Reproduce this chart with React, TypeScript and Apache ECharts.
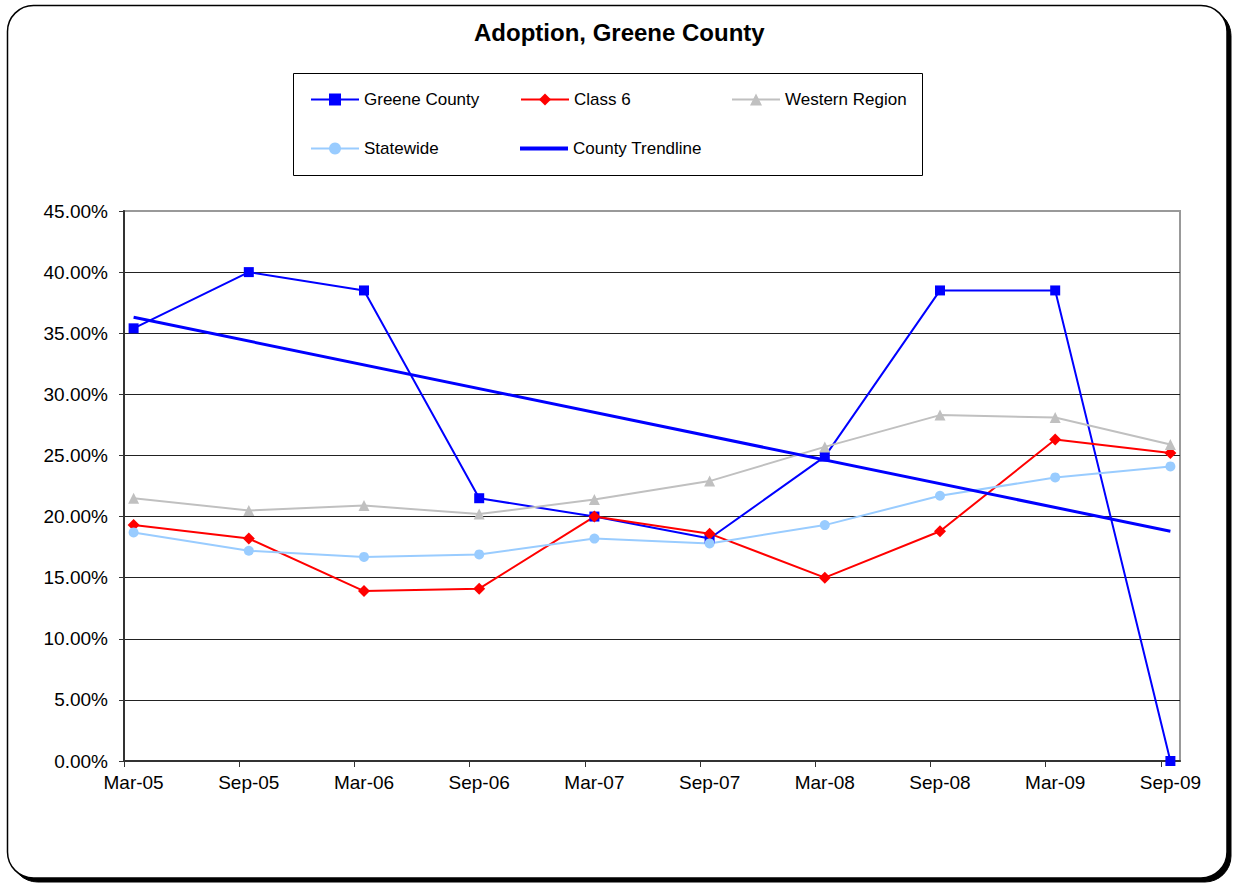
import React, { useEffect, useRef } from "react";
import * as echarts from "echarts";

// Reporting periods (six-month steps) and their month offsets from Mar-05
const periods = ["Mar-05", "Sep-05", "Mar-06", "Sep-06", "Mar-07", "Sep-07", "Mar-08", "Sep-08", "Mar-09", "Sep-09"];
const periodMonths = [0, 6, 12, 18, 24, 30, 36, 42, 48, 54];

// Adoption rates, in percent
const greeneCounty = [35.4, 40.0, 38.5, 21.5, 20.0, 18.2, 24.9, 38.5, 38.5, 0.0];
const class6 = [19.3, 18.2, 13.9, 14.1, 20.0, 18.6, 15.0, 18.8, 26.3, 25.2];
const westernRegion = [21.5, 20.5, 20.9, 20.2, 21.4, 22.9, 25.7, 28.3, 28.1, 25.9];
const statewide = [18.7, 17.2, 16.7, 16.9, 18.2, 17.8, 19.3, 21.7, 23.2, 24.1];

// County trendline, first and last period
const countyTrend = [36.3, 18.8];

const yTicks = [0, 5, 10, 15, 20, 25, 30, 35, 40, 45];

const FONT = "Liberation Sans, Arial, sans-serif";

const toPoints = (vals: number[]) => vals.map((v, i) => [periodMonths[i] + 0.5, v]);

export default function App() {
  const ref = useRef<HTMLDivElement>(null);

  useEffect(() => {
    if (!ref.current) return;
    const chart = echarts.init(ref.current, undefined, { renderer: "svg" });

    const lineSeries = (
      name: string,
      vals: number[],
      color: string,
      symbol: string,
      symbolSize: number
    ) => ({
      name,
      type: "line",
      data: toPoints(vals),
      symbol,
      symbolSize,
      showSymbol: true,
      lineStyle: { color, width: 2 },
      itemStyle: { color },
      emphasis: { disabled: true },
      z: 3,
    });

    const legendText = { fontSize: 17, fontFamily: FONT, color: "#000" };
    const legendItem = (name: string, left: number, top: number, extra: any = {}) => ({
      data: [name],
      left,
      top,
      orient: "horizontal",
      itemWidth: 48,
      itemHeight: 15,
      selectedMode: false,
      textStyle: legendText,
      padding: 0,
      ...extra,
    });

    const lastMonth = periodMonths[periodMonths.length - 1];

    chart.setOption({
      animation: false,
      backgroundColor: "transparent",
      title: {
        text: "Adoption, Greene County",
        left: 474,
        top: 20,
        padding: 0,
        textStyle: { fontSize: 24, fontWeight: "bold", fontFamily: FONT, color: "#000" },
      },
      graphic: [
        {
          type: "rect",
          silent: true,
          z: -20,
          shape: { x: 11.5, y: 9.5, width: 1219.5, height: 872.5, r: 26 },
          style: { fill: "#000", stroke: "#000", lineWidth: 1 },
        },
        {
          type: "rect",
          silent: true,
          z: -19,
          shape: { x: 7.5, y: 5.5, width: 1219.5, height: 872.5, r: 26 },
          style: { fill: "#fff", stroke: "#000", lineWidth: 1.5 },
        },
        {
          type: "rect",
          silent: true,
          z: -18,
          shape: { x: 293.5, y: 73.5, width: 629, height: 102 },
          style: { fill: "#fff", stroke: "#000", lineWidth: 1 },
        },
      ],
      legend: [
        legendItem("Greene County", 310, 91),
        legendItem("Class 6", 520, 91),
        legendItem("Western Region", 731, 91),
        legendItem("Statewide", 310, 140),
        legendItem("County Trendline", 520, 140, { itemHeight: 4, icon: "rect" }),
      ],
      grid: {
        left: 124,
        right: 53,
        top: 211,
        bottom: 123,
        show: true,
        backgroundColor: "#fff",
        borderColor: "#999",
        borderWidth: 2,
      },
      xAxis: {
        type: "value",
        min: 0,
        max: lastMonth + 1,
        splitLine: { show: false },
        axisLine: { show: true, onZero: false, lineStyle: { color: "#333", width: 2 } },
        axisTick: {
          show: true,
          length: 6,
          customValues: periodMonths,
          lineStyle: { color: "#333", width: 1 },
        },
        axisLabel: {
          customValues: periodMonths.map((m) => m + 0.5),
          formatter: (v: number) => {
            const i = periodMonths.indexOf(Math.round(v - 0.5));
            return i >= 0 ? periods[i] : "";
          },
          fontSize: 19,
          fontFamily: FONT,
          color: "#000",
          margin: 12,
        },
      },
      yAxis: {
        type: "value",
        min: 0,
        max: 45,
        interval: 5,
        axisLine: { show: true, lineStyle: { color: "#333", width: 2 } },
        axisTick: { show: true, length: 5, lineStyle: { color: "#333", width: 1 } },
        splitLine: {
          show: true,
          lineStyle: {
            color: yTicks.map((t, i) => (i === yTicks.length - 1 ? "#999" : "#222")),
            width: 1,
          },
        },
        axisLabel: {
          formatter: (v: number) => v.toFixed(2) + "%",
          fontSize: 19,
          fontFamily: FONT,
          color: "#000",
          margin: 16,
        },
      },
      series: [
        lineSeries("Greene County", greeneCounty, "#0000FF", "rect", 10),
        lineSeries("Class 6", class6, "#FF0000", "diamond", 12),
        lineSeries("Western Region", westernRegion, "#C0C0C0", "triangle", 11),
        lineSeries("Statewide", statewide, "#99CCFF", "circle", 10),
        {
          name: "County Trendline",
          type: "line",
          data: [
            [periodMonths[0] + 0.5, countyTrend[0]],
            [lastMonth + 0.5, countyTrend[1]],
          ],
          symbol: "none",
          lineStyle: { color: "#0000FF", width: 3 },
          itemStyle: { color: "#0000FF" },
          emphasis: { disabled: true },
          z: 4,
        },
      ],
    });

    return () => chart.dispose();
  }, []);

  return (
    <div
      ref={ref}
      style={{ position: "absolute", left: 0, top: 0, width: 1233, height: 884 }}
    />
  );
}
